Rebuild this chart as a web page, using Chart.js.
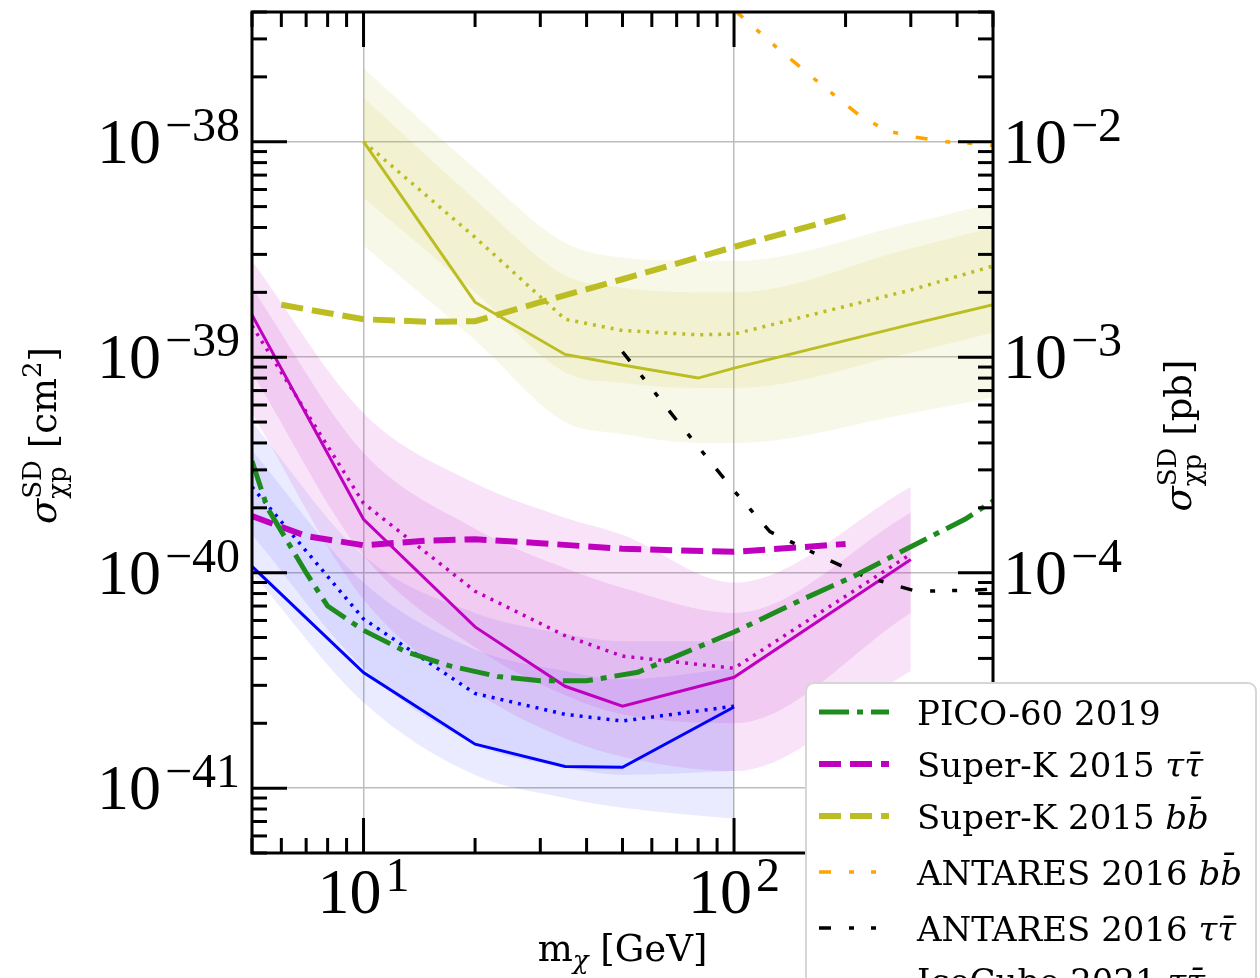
<!DOCTYPE html>
<html>
<head>
<meta charset="utf-8">
<script src="https://cdn.jsdelivr.net/npm/chart.js@4.4.0/dist/chart.umd.min.js"></script>
<style>
    html, body { margin: 0; padding: 0; background: #fff; overflow: hidden; }
    canvas { display: block; }
</style>
</head>
<body>
<canvas id="limitsChart" width="1260" height="978"></canvas>
<script>
// axis ranges
const massMin = 5, massMax = 500;
const sigmaMin = 5e-42, sigmaMax = 4e-38;
const cm2ToPb = 1e36;
const majorMass = [10, 100];
const majorSigma = [1e-41, 1e-40, 1e-39, 1e-38];

// PICO-60 2019
const picoMass = [5, 5.5, 7, 8, 10, 13, 17, 23, 30, 40, 55, 100, 150, 210, 300, 420, 500];
const picoSigma = [3.3e-40, 2.0e-40, 1.0e-40, 7.0e-41, 5.4e-41, 4.3e-41, 3.7e-41, 3.3e-41, 3.15e-41, 3.15e-41, 3.45e-41, 5.3e-41, 7.4e-41, 9.6e-41, 1.32e-40, 1.77e-40, 2.15e-40];

// Super-K 2015
const skTauMass = [5, 7, 10, 15, 20, 30, 50, 100, 150, 200];
const skTauSigma = [1.83e-40, 1.48e-40, 1.34e-40, 1.41e-40, 1.43e-40, 1.37e-40, 1.29e-40, 1.25e-40, 1.31e-40, 1.36e-40];
const skBbMass = [6, 10, 15, 20, 30, 50, 100, 200];
const skBbSigma = [1.75e-39, 1.5e-39, 1.46e-39, 1.47e-39, 1.8e-39, 2.3e-39, 3.25e-39, 4.5e-39];

// ANTARES 2016
const antBbMass = [100, 130, 170, 220, 260, 310, 370, 450, 500];
const antBbSigma = [4.1e-38, 2.75e-38, 1.87e-38, 1.31e-38, 1.12e-38, 1.05e-38, 1.0e-38, 9.8e-39, 9.6e-39];
const antTauMass = [50, 70, 100, 125, 170, 225, 310, 450, 500];
const antTauSigma = [1.06e-39, 5.1e-40, 2.4e-40, 1.55e-40, 1.2e-40, 9.6e-41, 8.2e-41, 8.3e-41, 8.4e-41];

// IceCube 2021, tau tau (magenta)
const icTauMass = [5, 10, 20, 35, 50, 100, 300];
const icTauObs = [1.57e-39, 1.77e-40, 5.6e-41, 2.97e-41, 2.4e-41, 3.27e-41, 1.15e-40];
const icTauExp = [1.4e-39, 2.1e-40, 8.2e-41, 5.1e-41, 4.1e-41, 3.6e-41, 1.22e-40];
const icTauUp2 = [2.8e-39, 5.5e-40, 2.6e-40, 1.8e-40, 1.5e-40, 9.0e-41, 2.5e-40];
const icTauUp1 = [2.1e-39, 3.6e-40, 1.6e-40, 1.05e-40, 8.5e-41, 6.5e-41, 1.9e-40];
const icTauLo1 = [8.5e-40, 1.2e-40, 4.5e-41, 2.7e-41, 2.2e-41, 2.0e-41, 6.5e-41];
const icTauLo2 = [5.5e-40, 7.5e-41, 2.8e-41, 1.7e-41, 1.4e-41, 1.2e-41, 3.5e-41];

// IceCube 2021, blue channel
const icNuMass = [5, 10, 20, 35, 50, 100];
const icNuObs = [1.07e-40, 3.44e-41, 1.6e-41, 1.26e-41, 1.25e-41, 2.38e-41];
const icNuExp = [2.5e-40, 6.1e-41, 2.75e-41, 2.2e-41, 2.05e-41, 2.4e-41];
const icNuUp2 = [5.0e-40, 1.2e-40, 6.5e-41, 5.2e-41, 4.8e-41, 4.8e-41];
const icNuUp1 = [3.7e-40, 9.0e-41, 4.4e-41, 3.5e-41, 3.2e-41, 3.6e-41];
const icNuLo1 = [1.5e-40, 3.6e-41, 1.6e-41, 1.25e-41, 1.15e-41, 1.2e-41];
const icNuLo2 = [1.0e-40, 2.5e-41, 1.15e-41, 9.0e-42, 8.1e-42, 7.2e-42];

// IceCube 2021, b bbar (olive)
const icBbMass = [10, 20, 35, 50, 80, 100, 300, 500];
const icBbObs = [1.0e-38, 1.8e-39, 1.03e-39, 9.2e-40, 8.0e-40, 8.9e-40, 1.42e-39, 1.75e-39];
const icBbExp = [1.0e-38, 3.6e-39, 1.5e-39, 1.33e-39, 1.27e-39, 1.28e-39, 2.05e-39, 2.65e-39];
const icBbUp2 = [2.2e-38, 7.5e-39, 3.4e-39, 2.9e-39, 2.8e-39, 2.8e-39, 4.2e-39, 5.2e-39];
const icBbUp1 = [1.6e-38, 5.4e-39, 2.4e-39, 2.1e-39, 2.0e-39, 2.0e-39, 3.2e-39, 4.0e-39];
const icBbLo1 = [5.5e-39, 2.0e-39, 8.5e-40, 7.6e-40, 7.2e-40, 7.2e-40, 1.05e-39, 1.3e-39];
const icBbLo2 = [3.3e-39, 1.2e-39, 5.0e-40, 4.4e-40, 4.0e-40, 4.0e-40, 5.5e-40, 6.5e-40];

const OLIVE = '#bcbd22', MAGENTA = '#bf00bf', BLUE = '#0000ff', GREEN = '#1e8b1e', ORANGE = '#ffa500';

function pts(xs, ys) {
    return xs.map((x, i) => ({ x: x, y: ys[i] }));
}

function curve(label, xs, ys, color, width, dash, order) {
    return {
        label: label,
        data: pts(xs, ys),
        borderColor: color,
        borderWidth: width,
        borderDash: dash,
        borderCapStyle: 'butt',
        pointRadius: 0,
        fill: false,
        tension: 0,
        clip: 0,
        order: order
    };
}

// upper edge fills down to the next dataset (the lower edge)
function band(xs, up, lo, fillColor) {
    const common = { borderColor: 'rgba(0,0,0,0)', borderWidth: 1, pointRadius: 0,
                     cubicInterpolationMode: 'monotone', clip: 0, order: 20 };
    return [
        Object.assign({ data: pts(xs, up), fill: '+1', backgroundColor: fillColor }, common),
        Object.assign({ data: pts(xs, lo), fill: false }, common)
    ];
}

const datasets = [
    ...band(icBbMass, icBbUp2, icBbLo2, 'rgba(188,189,34,0.10)'),
    ...band(icBbMass, icBbUp1, icBbLo1, 'rgba(188,189,34,0.10)'),
    ...band(icTauMass, icTauUp2, icTauLo2, 'rgba(191,0,191,0.11)'),
    ...band(icTauMass, icTauUp1, icTauLo1, 'rgba(191,0,191,0.11)'),
    ...band(icNuMass, icNuUp2, icNuLo2, 'rgba(0,0,255,0.08)'),
    ...band(icNuMass, icNuUp1, icNuLo1, 'rgba(0,0,255,0.08)'),
    curve('IceCube 2021 bb expected', icBbMass, icBbExp, OLIVE, 3.5, [3, 6], 5),
    curve('IceCube 2021 tautau expected', icTauMass, icTauExp, MAGENTA, 3.5, [3, 6], 5),
    curve('IceCube 2021 blue expected', icNuMass, icNuExp, BLUE, 3.5, [3, 6], 5),
    curve('IceCube 2021 bb', icBbMass, icBbObs, OLIVE, 3, [], 4),
    curve('IceCube 2021 tautau', icTauMass, icTauObs, MAGENTA, 3, [], 4),
    curve('IceCube 2021 blue', icNuMass, icNuObs, BLUE, 3, [], 4),
    curve('ANTARES 2016 bb', antBbMass, antBbSigma, ORANGE, 3.5, [12, 18, 5, 17, 5, 18], 3),
    curve('ANTARES 2016 tautau', antTauMass, antTauSigma, '#000000', 3.5, [12, 18, 5, 17, 5, 18], 3),
    curve('Super-K 2015 bb', skBbMass, skBbSigma, OLIVE, 6, [22, 9], 2),
    curve('Super-K 2015 tautau', skTauMass, skTauSigma, MAGENTA, 6, [22, 9], 2),
    curve('PICO-60 2019', picoMass, picoSigma, GREEN, 5, [30, 8, 6, 8], 1)
];

// legend rows: dataset label, text pieces (second piece is math italic)
const legendRows = [
    ['PICO-60 2019', 'PICO-60 2019', ''],
    ['Super-K 2015 tautau', 'Super-K 2015 ', '\u03c4\u03c4\u0304'],
    ['Super-K 2015 bb', 'Super-K 2015 ', 'bb\u0304'],
    ['ANTARES 2016 bb', 'ANTARES 2016 ', 'bb\u0304'],
    ['ANTARES 2016 tautau', 'ANTARES 2016 ', '\u03c4\u03c4\u0304'],
    ['IceCube 2021 tautau', 'IceCube 2021 ', '\u03c4\u03c4\u0304']
];

const SERIF = "'DejaVu Serif', serif";
const TICKFONT = "'Liberation Serif', serif";

function powerLabel(ctx, exp, x, y, align) {
    const base = '10';
    const sup = (exp < 0 ? '\u2212' : '') + Math.abs(exp);
    ctx.font = '64px ' + TICKFONT;
    const wb = ctx.measureText(base).width + 4;
    ctx.font = '48px ' + TICKFONT;
    const ws = ctx.measureText(sup).width;
    let x0 = x;
    if (align === 'right') x0 = x - wb - ws;
    if (align === 'center') x0 = x - (wb + ws) / 2;
    ctx.textAlign = 'left';
    ctx.textBaseline = 'alphabetic';
    ctx.font = '64px ' + TICKFONT;
    ctx.fillText(base, x0, y);
    ctx.font = '48px ' + TICKFONT;
    ctx.fillText(sup, x0 + wb, y - 22);
}

// pieces: {t, font, dy} or {sup, sub, font}
function richWidth(ctx, pieces) {
    let w = 0;
    pieces.forEach(p => {
        ctx.font = p.font;
        if (p.sup !== undefined) {
            w += Math.max(ctx.measureText(p.sup).width, ctx.measureText(p.sub).width);
        } else {
            w += ctx.measureText(p.t).width;
        }
    });
    return w;
}

function drawRich(ctx, pieces, x, y) {
    let cx = x;
    pieces.forEach(p => {
        ctx.font = p.font;
        if (p.sup !== undefined) {
            ctx.fillText(p.sup, cx, y - 15);
            ctx.fillText(p.sub, cx, y + 10);
            cx += Math.max(ctx.measureText(p.sup).width, ctx.measureText(p.sub).width);
        } else {
            ctx.fillText(p.t, cx, y + (p.dy || 0));
            cx += ctx.measureText(p.t).width;
        }
    });
}

function sigmaTitle(unitPieces) {
    return [
        { t: '\u03c3', font: 'italic 37px ' + SERIF },
        { sup: 'SD', sub: '\u03c7p', font: '26px ' + SERIF },
        { t: ' [', font: '37px ' + SERIF },
        ...unitPieces,
        { t: ']', font: '37px ' + SERIF }
    ];
}

const axesDecor = {
    id: 'axesDecor',
    afterDraw(chart) {
        const ctx = chart.ctx;
        const a = chart.chartArea;
        const sx = chart.scales.x, sy = chart.scales.y, sy2 = chart.scales.y2;
        ctx.save();
        ctx.strokeStyle = '#000';
        ctx.fillStyle = '#000';
        ctx.lineWidth = 3;
        ctx.setLineDash([]);
        ctx.lineCap = 'butt';

        // inward ticks, x (bottom and top)
        [1, 10, 100].forEach(d => {
            for (let k = 1; k <= 9; k++) {
                const v = k * d;
                if (v < massMin || v > massMax) continue;
                const px = sx.getPixelForValue(v);
                const len = k === 1 ? 35 : 15;
                ctx.beginPath();
                ctx.moveTo(px, a.bottom); ctx.lineTo(px, a.bottom - len);
                ctx.moveTo(px, a.top); ctx.lineTo(px, a.top + len);
                ctx.stroke();
            }
        });
        // left ticks
        [-42, -41, -40, -39, -38].forEach(e => {
            for (let k = 1; k <= 9; k++) {
                const v = k * Math.pow(10, e);
                if (v < sigmaMin * 0.999 || v > sigmaMax) continue;
                const py = sy.getPixelForValue(v);
                const len = k === 1 ? 35 : 15;
                ctx.beginPath();
                ctx.moveTo(a.left, py); ctx.lineTo(a.left + len, py);
                ctx.stroke();
            }
        });
        // right ticks from the pb axis
        [-6, -5, -4, -3, -2].forEach(e => {
            for (let k = 1; k <= 9; k++) {
                const v = k * Math.pow(10, e);
                if (v < sigmaMin * cm2ToPb * 0.999 || v > sigmaMax * cm2ToPb) continue;
                const py = sy2.getPixelForValue(v);
                const len = k === 1 ? 35 : 15;
                ctx.beginPath();
                ctx.moveTo(a.right, py); ctx.lineTo(a.right - len, py);
                ctx.stroke();
            }
        });

        ctx.strokeRect(a.left, a.top, a.right - a.left, a.bottom - a.top);

        // tick labels
        majorSigma.forEach(v => {
            const py = sy.getPixelForValue(v);
            powerLabel(ctx, Math.round(Math.log10(v)), a.left - 12, py + 21, 'right');
        });
        [1e-5, 1e-4, 1e-3, 1e-2].forEach(v => {
            const py = sy2.getPixelForValue(v);
            powerLabel(ctx, Math.round(Math.log10(v)), a.right + 10, py + 21, 'left');
        });
        majorMass.forEach(v => {
            const px = sx.getPixelForValue(v);
            powerLabel(ctx, Math.round(Math.log10(v)), px, a.bottom + 60, 'center');
        });

        // axis titles
        ctx.textAlign = 'left';
        ctx.textBaseline = 'alphabetic';
        const xTitle = [
            { t: 'm', font: '37px ' + SERIF },
            { t: '\u03c7', font: 'italic 26px ' + SERIF, dy: 8 },
            { t: ' [GeV]', font: '37px ' + SERIF }
        ];
        const wx = richWidth(ctx, xTitle);
        drawRich(ctx, xTitle, (a.left + a.right) / 2 - wx / 2, a.bottom + 108);

        const leftTitle = sigmaTitle([
            { t: 'cm', font: '37px ' + SERIF },
            { t: '2', font: '26px ' + SERIF, dy: -15 }
        ]);
        const rightTitle = sigmaTitle([{ t: 'pb', font: '37px ' + SERIF }]);
        [[leftTitle, 45], [rightTitle, 1180]].forEach(([pieces, cx]) => {
            const w = richWidth(ctx, pieces);
            ctx.save();
            ctx.translate(cx, (a.top + a.bottom) / 2 + 3);
            ctx.rotate(-Math.PI / 2);
            drawRich(ctx, pieces, -w / 2, 11);
            ctx.restore();
        });

        // legend box (runs past the bottom of the canvas)
        const lx = a.right - 187, ly = 683, lw = 450, lh = 340;
        ctx.beginPath();
        ctx.roundRect(lx, ly, lw, lh, 8);
        ctx.fillStyle = '#ffffff';
        ctx.fill();
        ctx.strokeStyle = '#d6d6d6';
        ctx.lineWidth = 2;
        ctx.stroke();

        const byLabel = {};
        chart.data.datasets.forEach(ds => { if (ds.label) byLabel[ds.label] = ds; });
        let rowY = ly + 29;
        legendRows.forEach(([key, plain, math]) => {
            const ds = byLabel[key];
            ctx.strokeStyle = ds.borderColor;
            ctx.lineWidth = ds.borderWidth;
            ctx.setLineDash(ds.borderDash);
            ctx.lineCap = 'butt';
            ctx.beginPath();
            ctx.moveTo(lx + 13, rowY);
            ctx.lineTo(lx + 83, rowY);
            ctx.stroke();
            ctx.setLineDash([]);
            ctx.fillStyle = '#000';
            drawRich(ctx, [
                { t: plain, font: '34px ' + SERIF },
                { t: math, font: 'italic 34px ' + SERIF }
            ], lx + 111, rowY + 13);
            rowY += math.indexOf('b') === 0 ? 56 : 52;
        });
        ctx.restore();
    }
};

const ctx = document.getElementById('limitsChart').getContext('2d');
new Chart(ctx, {
    type: 'line',
    data: { datasets: datasets },
    options: {
        responsive: false,
        animation: false,
        events: [],
        layout: { padding: { left: 252, right: 267, top: 12, bottom: 125 } },
        plugins: { legend: { display: false }, tooltip: { enabled: false } },
        scales: {
            x: {
                type: 'logarithmic',
                min: massMin,
                max: massMax,
                afterBuildTicks: s => { s.ticks = majorMass.map(v => ({ value: v })); },
                ticks: { display: false },
                grid: { color: '#bdbdbd', lineWidth: 1.5, drawTicks: false },
                border: { display: false }
            },
            y: {
                type: 'logarithmic',
                min: sigmaMin,
                max: sigmaMax,
                afterBuildTicks: s => { s.ticks = majorSigma.map(v => ({ value: v })); },
                ticks: { display: false },
                grid: { color: '#bdbdbd', lineWidth: 1.5, drawTicks: false },
                border: { display: false }
            },
            y2: {
                type: 'logarithmic',
                position: 'right',
                min: sigmaMin * cm2ToPb,
                max: sigmaMax * cm2ToPb,
                ticks: { display: false },
                grid: { display: false, drawTicks: false },
                border: { display: false }
            }
        }
    },
    plugins: [axesDecor]
});
</script>
</body>
</html>
